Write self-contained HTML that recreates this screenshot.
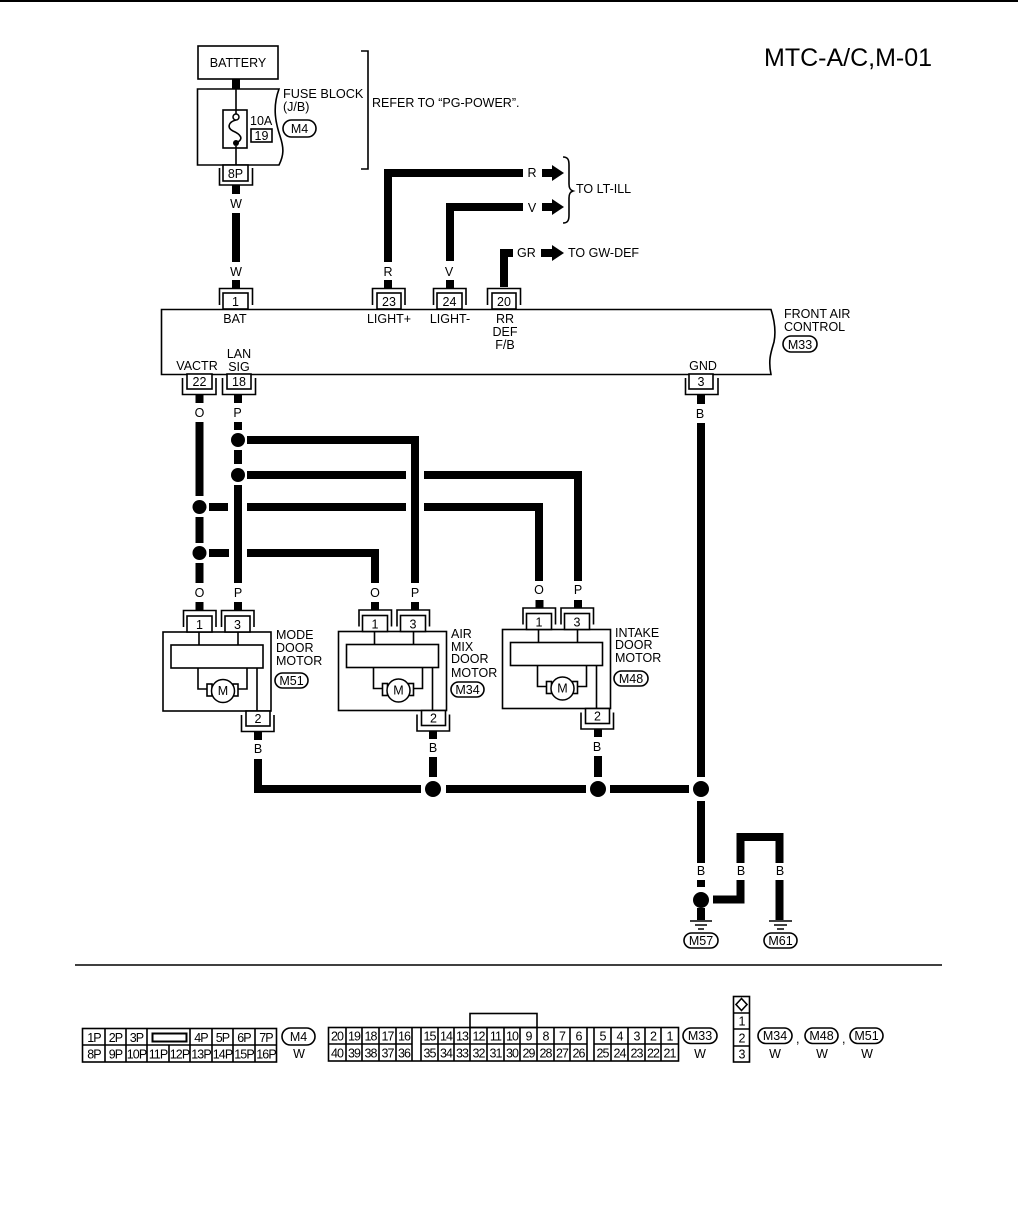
<!DOCTYPE html>
<html><head><meta charset="utf-8">
<style>
html,body{margin:0;padding:0;background:#fff}
svg{display:block}
text{font-family:"Liberation Sans",sans-serif;font-size:12.5px;fill:#000}
.c{text-anchor:middle}
.n{fill:none;stroke:#000;stroke-width:1.6}
.w{fill:none;stroke:#000;stroke-width:8}
.b{fill:#fff;stroke:#000;stroke-width:1.6}
.s{font-size:12.5px;letter-spacing:-.9px;text-anchor:middle}
</style></head><body>
<svg width="1018" height="1232" viewBox="0 0 1018 1232" xmlns="http://www.w3.org/2000/svg">
<rect width="1018" height="1232" fill="#fff"/>
<rect width="1018" height="2" fill="#000"/>
<text x="764" y="66" style="font-size:25px">MTC-A/C,M-01</text>

<!-- battery and fuse block -->
<rect class="b" x="198" y="46" width="80" height="33"/>
<text class="c" x="238" y="67">BATTERY</text>
<path class="w" d="M236 79V89"/>
<path class="n" d="M279 89H197.500V165H279C284 155 284 148 280 136C276 124 272 108 279 89Z"/>
<rect class="n" x="223" y="110" width="24" height="38"/>
<path class="n" d="M236 89V114M236 146V165M236 120C228 122 227 128 233 131C240 134 245 139 236 143"/>
<circle cx="236" cy="117" r="3" fill="#fff" stroke="#000" stroke-width="1.500"/>
<circle cx="236" cy="143" r="3" fill="#000"/>
<text x="250" y="125">10A</text>
<rect class="n" x="251" y="129" width="21" height="13"/>
<text class="c" x="261.500" y="140">19</text>
<text x="283" y="98" style="font-size:12.700px">FUSE BLOCK</text>
<text x="283" y="111">(J/B)</text>
<rect class="n" x="283" y="120" width="33" height="17" rx="8.500"/>
<text class="c" x="299.500" y="133">M4</text>
<path class="n" d="M361 51H368V169H361"/>
<text x="372" y="107">REFER TO “PG-POWER”.</text>
<rect class="b" x="223" y="165" width="25" height="16"/>
<text class="c" x="235.500" y="178">8P</text>
<path class="n" d="M219.500 168V185H252.500V168"/>
<path class="w" d="M236 185V194M236 213V262M236 280V288"/>
<text class="c" x="236" y="208">W</text>
<text class="c" x="236" y="276">W</text>

<!-- upper wires -->
<path class="w" d="M388 262V173H523M450 261V207H523M504 287V253H513M388 280V288M450 280V288"/>
<text class="c" x="532" y="177">R</text>
<text class="c" x="532" y="212">V</text>
<text x="517" y="257">GR</text>
<text class="c" x="388" y="276">R</text>
<text class="c" x="449" y="276">V</text>
<path d="M542 169H552V165L564 173L552 181V177H542ZM542 203H552V199L564 207L552 215V211H542ZM541 249H552V245L564 253L552 261V257H541Z" fill="#000"/>
<path class="n" d="M563 157C568 157 569 160 569 165V184C569 188 570 190 573 191C570 192 569 194 569 198V215C569 220 568 223 563 223"/>
<text x="576" y="193">TO LT-ILL</text>
<text x="568" y="257">TO GW-DEF</text>

<!-- top connectors of front air control -->
<path class="n" d="M219.500 305V288.500H252.500V305M372.500 305V288.500H405V305M433.500 305V288.500H466V305M487.500 305V288.500H520.500V305"/>
<rect class="b" x="223" y="293" width="25" height="16"/>
<rect class="b" x="377" y="293" width="24" height="16"/>
<rect class="b" x="437" y="293" width="25" height="16"/>
<rect class="b" x="492" y="293" width="24" height="16"/>
<text class="c" x="235.500" y="306">1</text>
<text class="c" x="389" y="306">23</text>
<text class="c" x="449.500" y="306">24</text>
<text class="c" x="504" y="306">20</text>

<!-- front air control -->
<path class="n" d="M771 309.500H161.500V374.500H771C768 360 771 352 774 342C776 332 775 322 771 309.500Z"/>
<text class="c" x="235" y="323">BAT</text>
<text class="c" x="389" y="323">LIGHT+</text>
<text class="c" x="450" y="323">LIGHT-</text>
<text class="c" x="505" y="323">RR</text>
<text class="c" x="505" y="336">DEF</text>
<text class="c" x="505" y="349">F/B</text>
<text class="c" x="197" y="370">VACTR</text>
<text class="c" x="239" y="358">LAN</text>
<text class="c" x="239" y="371">SIG</text>
<text class="c" x="703" y="370">GND</text>
<text x="784" y="318">FRONT AIR</text>
<text x="784" y="331">CONTROL</text>
<rect class="n" x="783" y="336" width="34" height="16" rx="8"/>
<text class="c" x="800" y="349">M33</text>

<!-- lower connectors of front air control -->
<path class="n" d="M182.500 378V394.500H216V378M222.500 378V394.500H255.500V378M685.500 378V394.500H718V378"/>
<rect class="b" x="187" y="374" width="25" height="15"/>
<rect class="b" x="227" y="374" width="24" height="15"/>
<rect class="b" x="689" y="374" width="24" height="15"/>
<text class="c" x="199.500" y="386">22</text>
<text class="c" x="239" y="386">18</text>
<text class="c" x="701" y="386">3</text>
<path class="w" d="M199.500 395V403M238 395V403M701 395V404"/>
<text class="c" x="199.500" y="417">O</text>
<text class="c" x="237.500" y="417">P</text>
<text class="c" x="700" y="418">B</text>

<!-- matrix -->
<path class="w" d="M199.500 422V496M199.500 517V543M199.500 563V583"/>
<path class="w" d="M238 422V430M238 450V464M238 485V583"/>
<path class="w" d="M247 440H415V583"/>
<path class="w" d="M247 475H406M424 475H578V581"/>
<path class="w" d="M209 507H228M247 507H406M424 507H539V581"/>
<path class="w" d="M209 553H229M247 553H375V583"/>
<circle cx="238" cy="440" r="7"/><circle cx="238" cy="475" r="7"/>
<circle cx="199.500" cy="507" r="7"/><circle cx="199.500" cy="553" r="7"/>
<text class="c" x="199.500" y="597">O</text>
<text class="c" x="238" y="597">P</text>
<text class="c" x="375" y="597">O</text>
<text class="c" x="415" y="597">P</text>
<text class="c" x="539" y="594">O</text>
<text class="c" x="578" y="594">P</text>
<path class="w" d="M199.500 602V610M238 602V610M375 602V610M415 602V610M539.500 600V608M578 600V608"/>

<!-- mode door motor -->
<g>
<rect class="n" x="163" y="632" width="108" height="79"/>
<path class="n" d="M183.500 627V610.500H216V627M221.500 627V610.500H254V627"/>
<rect class="b" x="187" y="616" width="25" height="16"/>
<rect class="b" x="225" y="616" width="25" height="16"/>
<text class="c" x="199.500" y="629">1</text>
<text class="c" x="237.500" y="629">3</text>
<rect class="n" x="171" y="645" width="92" height="23"/>
<path class="n" d="M199 632V645M238 632V645M198 668V689H207M247 668V689H238M257 668V711"/>
<rect class="n" x="207" y="684" width="5" height="12"/>
<rect class="n" x="233" y="684" width="5" height="12"/>
<circle cx="223" cy="691" r="11.500" fill="#fff" stroke="#000" stroke-width="1.500"/>
<text class="c" x="223" y="695">M</text>
<path class="n" d="M241.500 715V731.500H274V715"/>
<rect class="b" x="246" y="711" width="24" height="15"/>
<text class="c" x="258" y="723">2</text>
</g>
<text x="276" y="639">MODE</text>
<text x="276" y="652">DOOR</text>
<text x="276" y="665">MOTOR</text>
<rect class="n" x="275" y="673" width="33" height="15" rx="7.500"/>
<text class="c" x="291.500" y="685">M51</text>

<!-- air mix door motor -->
<g transform="translate(175.500,-0.500)">
<rect class="n" x="163" y="632" width="108" height="79"/>
<path class="n" d="M183.500 627V610.500H216V627M221.500 627V610.500H254V627"/>
<rect class="b" x="187" y="616" width="25" height="16"/>
<rect class="b" x="225" y="616" width="25" height="16"/>
<text class="c" x="199.500" y="629">1</text>
<text class="c" x="237.500" y="629">3</text>
<rect class="n" x="171" y="645" width="92" height="23"/>
<path class="n" d="M199 632V645M238 632V645M198 668V689H207M247 668V689H238M257 668V711"/>
<rect class="n" x="207" y="684" width="5" height="12"/>
<rect class="n" x="233" y="684" width="5" height="12"/>
<circle cx="223" cy="691" r="11.500" fill="#fff" stroke="#000" stroke-width="1.500"/>
<text class="c" x="223" y="695">M</text>
<path class="n" d="M241.500 715V731.500H274V715"/>
<rect class="b" x="246" y="711" width="24" height="15"/>
<text class="c" x="258" y="723">2</text>
</g>
<text x="451" y="638">AIR</text>
<text x="451" y="651">MIX</text>
<text x="451" y="663">DOOR</text>
<text x="451" y="677">MOTOR</text>
<rect class="n" x="451" y="682" width="33" height="15" rx="7.500"/>
<text class="c" x="467.500" y="694">M34</text>

<!-- intake door motor -->
<g transform="translate(339.500,-2.500)">
<rect class="n" x="163" y="632" width="108" height="79"/>
<path class="n" d="M183.500 627V610.500H216V627M221.500 627V610.500H254V627"/>
<rect class="b" x="187" y="616" width="25" height="16"/>
<rect class="b" x="225" y="616" width="25" height="16"/>
<text class="c" x="199.500" y="629">1</text>
<text class="c" x="237.500" y="629">3</text>
<rect class="n" x="171" y="645" width="92" height="23"/>
<path class="n" d="M199 632V645M238 632V645M198 668V689H207M247 668V689H238M257 668V711"/>
<rect class="n" x="207" y="684" width="5" height="12"/>
<rect class="n" x="233" y="684" width="5" height="12"/>
<circle cx="223" cy="691" r="11.500" fill="#fff" stroke="#000" stroke-width="1.500"/>
<text class="c" x="223" y="695">M</text>
<path class="n" d="M241.500 715V731.500H274V715"/>
<rect class="b" x="246" y="711" width="24" height="15"/>
<text class="c" x="258" y="723">2</text>
</g>
<text x="615" y="637">INTAKE</text>
<text x="615" y="649">DOOR</text>
<text x="615" y="662">MOTOR</text>
<rect class="n" x="614" y="671" width="34" height="15" rx="7.500"/>
<text class="c" x="631" y="683">M48</text>

<!-- ground bus -->
<path class="w" d="M258 732V740M433 731V739M598 729V737"/>
<text class="c" x="258" y="753">B</text>
<text class="c" x="433" y="752">B</text>
<text class="c" x="597" y="751">B</text>
<path class="w" d="M258 759V789H421M446 789H586M610 789H689M433 757V777M598 756V777M701 423V777M701 801V863"/>
<circle cx="433" cy="789" r="8"/><circle cx="598" cy="789" r="8"/><circle cx="701" cy="789" r="8"/>

<!-- grounds -->
<text class="c" x="701" y="875">B</text>
<text class="c" x="741" y="875">B</text>
<text class="c" x="780" y="875">B</text>
<path class="w" d="M701 880V887M701 908V920M713 899.500H740.500V880M740.500 863V837H779.500V863M779.500 880V920"/>
<circle cx="701" cy="900" r="8"/>
<path class="n" d="M690 921H712M695 925H707M698 929H704M769 921H792M774 925H787M777 929H784"/>
<rect class="n" x="684" y="933" width="34" height="15" rx="7.500"/>
<text class="c" x="701" y="945">M57</text>
<rect class="n" x="764" y="933" width="33" height="15" rx="7.500"/>
<text class="c" x="780.500" y="945">M61</text>

<path class="n" d="M75 965H942"/>

<!-- M4 connector -->
<rect class="n" x="82.500" y="1028.500" width="194" height="33.500"/>
<path class="n" d="M82.500 1045H276.500M105 1028V1062M126 1028V1062M147 1028V1062M169 1045V1062M190 1028V1062M212 1028V1062M233 1028V1062M255 1028V1062"/>
<rect x="152.500" y="1033.500" width="34" height="8" fill="#fff" stroke="#000" stroke-width="2"/>
<text class="s" x="94" y="1042">1P</text><text class="s" x="115.500" y="1042">2P</text><text class="s" x="136.500" y="1042">3P</text><text class="s" x="201" y="1042">4P</text><text class="s" x="222.500" y="1042">5P</text><text class="s" x="244" y="1042">6P</text><text class="s" x="266" y="1042">7P</text>
<text class="s" x="94" y="1058.500">8P</text><text class="s" x="115.500" y="1058.500">9P</text><text class="s" x="136.500" y="1058.500">10P</text><text class="s" x="158" y="1058.500">11P</text><text class="s" x="179.500" y="1058.500">12P</text><text class="s" x="201" y="1058.500">13P</text><text class="s" x="222.500" y="1058.500">14P</text><text class="s" x="244" y="1058.500">15P</text><text class="s" x="266" y="1058.500">16P</text>
<rect class="n" x="282" y="1028" width="33" height="17" rx="8.500"/>
<text class="c" x="298.500" y="1041">M4</text>
<text class="c" x="299" y="1058">W</text>

<!-- M33 connector -->
<rect class="n" x="470" y="1013.500" width="67" height="14"/>
<rect class="n" x="328.500" y="1027.500" width="350" height="33.500"/>
<path class="n" d="M328.500 1044H412M421 1044H587M594 1044H678.500M346 1027V1061M362 1027V1061M379 1027V1061M396 1027V1061M412 1027V1061M421 1027V1061M438 1027V1061M454 1027V1061M470 1027V1061M487 1027V1061M504 1027V1061M520 1027V1061M537 1027V1061M554 1027V1061M570 1027V1061M587 1027V1061M594 1027V1061M611 1027V1061M628 1027V1061M645 1027V1061M661 1027V1061"/>
<text class="s" x="337" y="1040.500">20</text><text class="s" x="354" y="1040.500">19</text><text class="s" x="370.500" y="1040.500">18</text><text class="s" x="387.500" y="1040.500">17</text><text class="s" x="404" y="1040.500">16</text>
<text class="s" x="429.500" y="1040.500">15</text><text class="s" x="446" y="1040.500">14</text><text class="s" x="462" y="1040.500">13</text><text class="s" x="478.500" y="1040.500">12</text><text class="s" x="495.500" y="1040.500">11</text><text class="s" x="512" y="1040.500">10</text><text class="s" x="528.500" y="1040.500">9</text><text class="s" x="545.500" y="1040.500">8</text><text class="s" x="562" y="1040.500">7</text><text class="s" x="578.500" y="1040.500">6</text>
<text class="s" x="602.500" y="1040.500">5</text><text class="s" x="619.500" y="1040.500">4</text><text class="s" x="636.500" y="1040.500">3</text><text class="s" x="653" y="1040.500">2</text><text class="s" x="669.500" y="1040.500">1</text>
<text class="s" x="337" y="1057.500">40</text><text class="s" x="354" y="1057.500">39</text><text class="s" x="370.500" y="1057.500">38</text><text class="s" x="387.500" y="1057.500">37</text><text class="s" x="404" y="1057.500">36</text>
<text class="s" x="429.500" y="1057.500">35</text><text class="s" x="446" y="1057.500">34</text><text class="s" x="462" y="1057.500">33</text><text class="s" x="478.500" y="1057.500">32</text><text class="s" x="495.500" y="1057.500">31</text><text class="s" x="512" y="1057.500">30</text><text class="s" x="528.500" y="1057.500">29</text><text class="s" x="545.500" y="1057.500">28</text><text class="s" x="562" y="1057.500">27</text><text class="s" x="578.500" y="1057.500">26</text>
<text class="s" x="602.500" y="1057.500">25</text><text class="s" x="619.500" y="1057.500">24</text><text class="s" x="636.500" y="1057.500">23</text><text class="s" x="653" y="1057.500">22</text><text class="s" x="669.500" y="1057.500">21</text>
<rect class="n" x="683" y="1028" width="34" height="15.500" rx="7.700"/>
<text class="c" x="700" y="1040">M33</text>
<text class="c" x="700" y="1058">W</text>

<!-- motor connector -->
<rect class="n" x="733.500" y="996.500" width="16" height="65.500"/>
<path class="n" d="M733.500 1013H749.500M733.500 1029H749.500M733.500 1046H749.500"/>
<path class="n" d="M741.500 998.500L747 1004.500L741.500 1010.500L736 1004.500Z"/>
<text class="s" x="741.500" y="1025.500">1</text>
<text class="s" x="741.500" y="1042.500">2</text>
<text class="s" x="741.500" y="1058.500">3</text>
<rect class="n" x="758" y="1028" width="34" height="15.500" rx="7.700"/>
<text class="c" x="775" y="1040">M34</text>
<text class="c" x="775" y="1058">W</text>
<text x="796" y="1043">,</text>
<rect class="n" x="805" y="1028" width="33" height="15.500" rx="7.700"/>
<text class="c" x="821.500" y="1040">M48</text>
<text class="c" x="822" y="1058">W</text>
<text x="842" y="1043">,</text>
<rect class="n" x="850" y="1028" width="33" height="15.500" rx="7.700"/>
<text class="c" x="866.500" y="1040">M51</text>
<text class="c" x="867" y="1058">W</text>
</svg>
</body></html>
